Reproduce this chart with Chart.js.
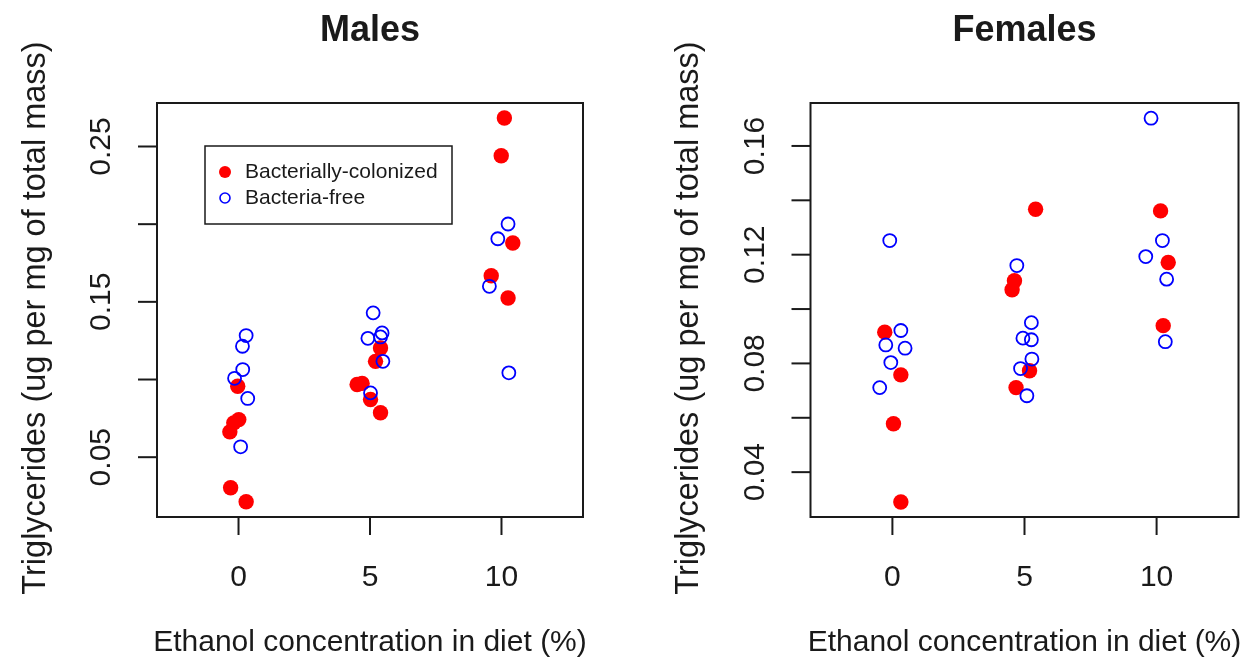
<!DOCTYPE html>
<html>
<head>
<meta charset="utf-8">
<script src="https://cdn.jsdelivr.net/npm/chart.js@4.4.1/dist/chart.umd.min.js"></script>
<style>
  body { margin: 0; background: #fff; }
  .panel { position: absolute; top: 0; height: 663px; }
  #males { left: 0; width: 650px; }
  #females { left: 650px; width: 599px; }
</style>
</head>
<body>
<div class="panel" id="males"><canvas id="maleChart" width="650" height="663"></canvas></div>
<div class="panel" id="females"><canvas id="femaleChart" width="599" height="663"></canvas></div>
<script>
// x = ethanol % (jittered as in the picture), y = triglycerides
const maleColonizedX = [-0.03, 0.01, -0.18, -0.33, -0.30, 0.29, 5.40, 5.21, 4.51, 4.70, 5.02, 5.40, 10.11, 9.99, 10.43, 9.61, 10.25];
const maleColonizedY = [0.0957, 0.0742, 0.0721, 0.0663, 0.0303, 0.0213, 0.1203, 0.1117, 0.0968, 0.0975, 0.0871, 0.0786, 0.2683, 0.2440, 0.1879, 0.1668, 0.1525];
const maleFreeX = [0.29, 0.15, 0.16, -0.15, 0.35, 0.08, 5.12, 4.92, 5.46, 5.40, 5.49, 5.02, 10.25, 9.86, 9.54, 10.28];
const maleFreeY = [0.1283, 0.1214, 0.1064, 0.1008, 0.0878, 0.0567, 0.1429, 0.1265, 0.1300, 0.1274, 0.1117, 0.0914, 0.2001, 0.1906, 0.1600, 0.1043];

const femaleColonizedX = [-0.29, 0.32, 0.04, 0.32, 5.42, 4.62, 4.53, 5.19, 4.68, 10.15, 10.44, 10.25];
const femaleColonizedY = [0.0915, 0.0758, 0.0578, 0.0290, 0.1367, 0.1104, 0.1071, 0.0773, 0.0711, 0.1361, 0.1171, 0.0939];
const femaleFreeX = [-0.10, 0.32, -0.25, 0.48, -0.06, -0.48, 4.71, 5.26, 4.94, 5.26, 5.28, 4.85, 5.09, 9.79, 10.22, 9.59, 10.38, 10.33];
const femaleFreeY = [0.1252, 0.0921, 0.0868, 0.0856, 0.0803, 0.0711, 0.1160, 0.0950, 0.0893, 0.0887, 0.0816, 0.0781, 0.0681, 0.1702, 0.1252, 0.1193, 0.1110, 0.0880];

const xTicks = [0, 5, 10];
const maleYTicks = [0.05, 0.10, 0.15, 0.20, 0.25];
const maleYLabels = ["0.05", "", "0.15", "", "0.25"];
const femaleYTicks = [0.04, 0.06, 0.08, 0.10, 0.12, 0.14, 0.16];
const femaleYLabels = ["0.04", "", "0.08", "", "0.12", "", "0.16"];

const seriesNames = ["Bacterially-colonized", "Bacteria-free"];
const yTitle = "Triglycerides (ug per mg of total mass)";
const xTitle = "Ethanol concentration in diet (%)";

const INK = "#1a1a1a";
const FONT = "'Liberation Sans', Arial, Helvetica, sans-serif";

function pts(xs, ys) {
    return xs.map((x, i) => ({ x: x, y: ys[i] }));
}

// R style base-graphics frame: box, outside ticks, rotated y labels, titles
function rFrame(opts) {
    return {
        id: "rFrame",
        afterDraw(chart) {
            const ctx = chart.ctx;
            const a = chart.chartArea;
            const sx = chart.scales.x, sy = chart.scales.y;
            ctx.save();
            ctx.strokeStyle = INK;
            ctx.fillStyle = INK;
            ctx.lineWidth = 2;
            ctx.strokeRect(a.left, a.top, a.right - a.left, a.bottom - a.top);

            // x axis
            ctx.font = "30px " + FONT;
            ctx.textAlign = "center";
            ctx.textBaseline = "middle";
            xTicks.forEach(v => {
                const px = sx.getPixelForValue(v);
                ctx.beginPath();
                ctx.moveTo(px, a.bottom);
                ctx.lineTo(px, a.bottom + 18);
                ctx.stroke();
                ctx.fillText(String(v), px, a.bottom + 61);
            });
            ctx.fillText(xTitle, (a.left + a.right) / 2, a.bottom + 126);

            // y axis
            opts.yTicks.forEach((v, i) => {
                const py = sy.getPixelForValue(v);
                ctx.beginPath();
                ctx.moveTo(a.left, py);
                ctx.lineTo(a.left - 19, py);
                ctx.stroke();
                if (opts.yLabels[i]) {
                    ctx.save();
                    ctx.translate(a.left - 55, py);
                    ctx.rotate(-Math.PI / 2);
                    ctx.fillText(opts.yLabels[i], 0, 0);
                    ctx.restore();
                }
            });
            ctx.save();
            ctx.translate(a.left - 121, (a.top + a.bottom) / 2 + 8);
            ctx.rotate(-Math.PI / 2);
            ctx.font = "32.5px " + FONT;
            ctx.fillText(yTitle, 0, 0);
            ctx.restore();

            // main title
            ctx.font = "bold 36px " + FONT;
            ctx.fillText(opts.title, (a.left + a.right) / 2, 31);

            // legend
            if (opts.legend) {
                const L = opts.legend;
                ctx.lineWidth = 1.5;
                ctx.strokeRect(L.x, L.y, L.w, L.h);
                ctx.fillStyle = "red";
                ctx.beginPath();
                ctx.arc(L.x + 20, L.y + 26, 6, 0, Math.PI * 2);
                ctx.fill();
                ctx.strokeStyle = "blue";
                ctx.lineWidth = 1.6;
                ctx.beginPath();
                ctx.arc(L.x + 20, L.y + 52, 5, 0, Math.PI * 2);
                ctx.stroke();
                ctx.fillStyle = INK;
                ctx.font = "21px " + FONT;
                ctx.textAlign = "left";
                ctx.fillText(seriesNames[0], L.x + 40, L.y + 26);
                ctx.fillText(seriesNames[1], L.x + 40, L.y + 52);
            }
            ctx.restore();
        }
    };
}

function makePanel(canvasId, colX, colY, freeX, freeY, yMin, yMax, pad, frameOpts) {
    new Chart(document.getElementById(canvasId), {
        type: "scatter",
        data: {
            datasets: [
                {
                    label: seriesNames[0],
                    data: pts(colX, colY),
                    backgroundColor: "red",
                    borderColor: "red",
                    borderWidth: 0,
                    pointRadius: 7.7,
                    order: 2,
                    clip: false
                },
                {
                    label: seriesNames[1],
                    data: pts(freeX, freeY),
                    backgroundColor: "rgba(0,0,0,0)",
                    borderColor: "blue",
                    borderWidth: 1.8,
                    pointRadius: 6.5,
                    order: 1,
                    clip: false
                }
            ]
        },
        options: {
            responsive: false,
            animation: false,
            events: [],
            layout: { padding: pad },
            plugins: { legend: { display: false }, tooltip: { enabled: false } },
            scales: {
                x: { type: "linear", min: -3.1, max: 13.1, display: false },
                y: { type: "linear", min: yMin, max: yMax, display: false }
            }
        },
        plugins: [rFrame(frameOpts)]
    });
}

makePanel("maleChart", maleColonizedX, maleColonizedY, maleFreeX, maleFreeY,
    0.0115, 0.278,
    { left: 157, right: 67, top: 103, bottom: 146 },
    { title: "Males", yTicks: maleYTicks, yLabels: maleYLabels,
      legend: { x: 205, y: 146, w: 247, h: 78 } });

makePanel("femaleChart", femaleColonizedX, femaleColonizedY, femaleFreeX, femaleFreeY,
    0.0235, 0.1758,
    { left: 160.5, right: 10.5, top: 103, bottom: 146 },
    { title: "Females", yTicks: femaleYTicks, yLabels: femaleYLabels, legend: null });
</script>
</body>
</html>
